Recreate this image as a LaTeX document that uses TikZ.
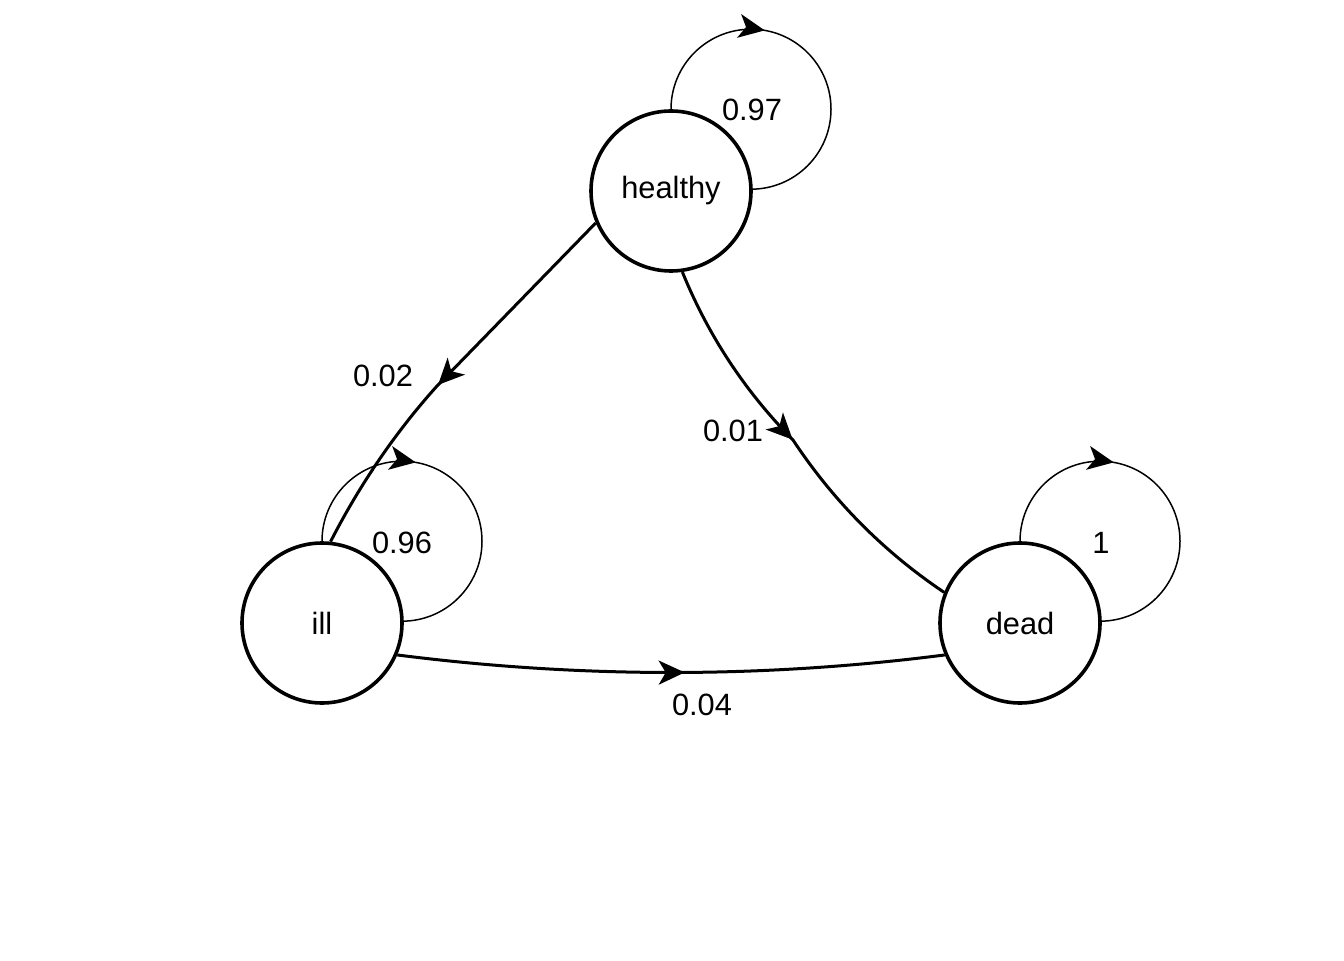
\documentclass[tikz,border=0pt]{standalone}
\usepackage{fontspec}
\setmainfont{Liberation Sans}
\usetikzlibrary{arrows.meta,decorations.markings,calc}
\tikzset{
  state/.style={circle,draw,line width=1.8pt,minimum size=80pt,inner sep=0pt,font=\fontsize{15.4}{18}\selectfont},
  lbl/.style={inner sep=0pt,font=\fontsize{15.4}{18}\selectfont},
  edgeline/.style={line width=1.5pt},
  loopline/.style={line width=0.75pt},
  mid arrow/.style={postaction={decorate,decoration={markings,mark=at position #1 with {\arrow{Stealth[length=13pt,width=12pt,inset=3.5pt]}}}}}
}
\begin{document}
\begin{tikzpicture}[x=0.5pt,y=0.5pt]
\useasboundingbox (0,0) rectangle (1344,960);
\node[state] (h) at (671,769) {healthy};
\node[state] (i) at (322,337) {ill};
\node[state] (d) at (1020,337) {dead};
% self loops
\draw[loopline,mid arrow=0.37] (h.90) arc[start angle=180,end angle=-90,radius=80];
\draw[loopline,mid arrow=0.37] (i.90) arc[start angle=180,end angle=-90,radius=80];
\draw[loopline,mid arrow=0.37] (d.90) arc[start angle=180,end angle=-90,radius=80];
\node[lbl] (l97) at (752,850) {0.97};
\node[lbl] (l96) at (402,417) {0.96};
\node[lbl] (l1) at (1101,417) {1};
% edges
\coordinate (m1) at (437,574);
\coordinate (c1) at (375,505);
\coordinate (c2a) at (721,593);
\coordinate (m2) at (793,520);
\coordinate (c2b) at (853.5,428.5);
\coordinate (c3) at (672,270);
\draw[edgeline,mid arrow=113pt] (h.203.5) -- (m1)
  .. controls ($(m1)!2/3!(c1)$) and ($(i.84)!2/3!(c1)$) .. (i.84);
\draw[edgeline,mid arrow=101pt] (h.-82)
  .. controls ($(h.-82)!2/3!(c2a)$) and ($(m2)!2/3!(c2a)$) .. (m2)
  .. controls ($(m2)!2/3!(c2b)$) and ($(d.158)!2/3!(c2b)$) .. (d.158);
\draw[edgeline,mid arrow=0.525] (i.-23) .. controls ($(i.-23)!2/3!(c3)$) and ($(d.203.5)!2/3!(c3)$) .. (d.203.5);
\node[lbl] (l02) at (383,584) {0.02};
\node[lbl] (l01) at (733,529) {0.01};
\node[lbl] (l04) at (702,255) {0.04};
\end{tikzpicture}
\end{document}
